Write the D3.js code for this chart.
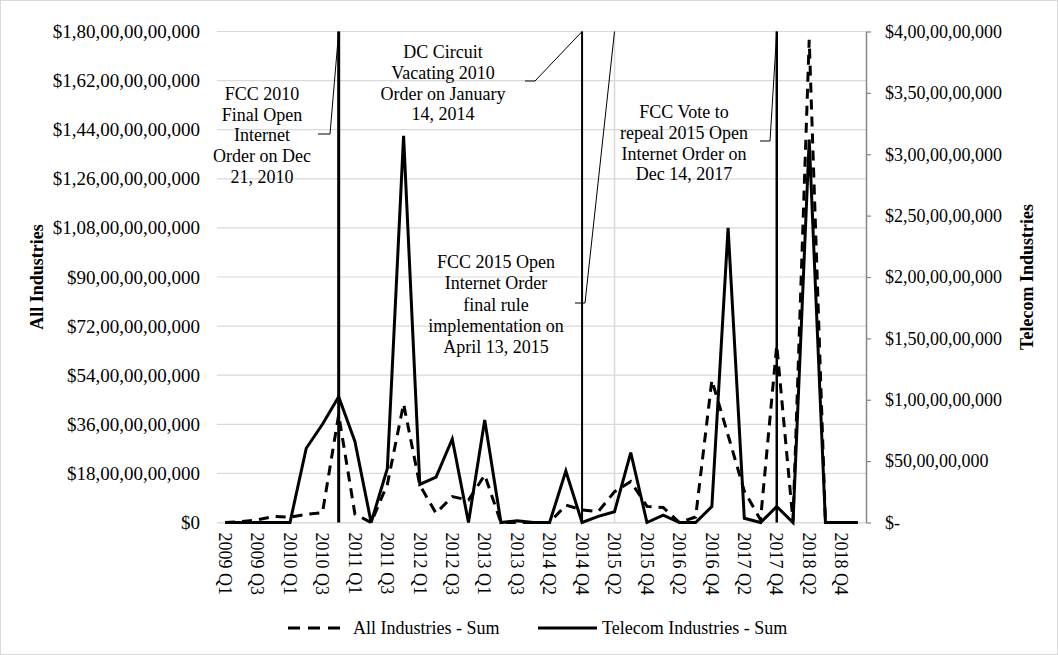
<html>
    <head>
        <style>
body {
    margin: 0;
    background: #fff;
}
svg {
    display: block;
    font-family: "Liberation Serif", "Times New Roman", serif;
}
svg text {
    font-size: 18px;
    fill: #000;
}
.title {
    font-weight: bold;
}
        </style>
    </head>
    <body>
<script src="https://d3js.org/d3.v7.min.js"></script>
<script>

// quarters on the category axis (2014 Q1 is not in the data)
const quarters = [
    '2009 Q1', '2009 Q2', '2009 Q3', '2009 Q4',
    '2010 Q1', '2010 Q2', '2010 Q3', '2010 Q4',
    '2011 Q1', '2011 Q2', '2011 Q3', '2011 Q4',
    '2012 Q1', '2012 Q2', '2012 Q3', '2012 Q4',
    '2013 Q1', '2013 Q2', '2013 Q3', '2013 Q4',
    '2014 Q2', '2014 Q3', '2014 Q4',
    '2015 Q1', '2015 Q2', '2015 Q3', '2015 Q4',
    '2016 Q1', '2016 Q2', '2016 Q3', '2016 Q4',
    '2017 Q1', '2017 Q2', '2017 Q3', '2017 Q4',
    '2018 Q1', '2018 Q2', '2018 Q3', '2018 Q4',
    '2019 Q1'
];

// All Industries - Sum (left axis, $)
const allIndustries = [
    0, 3e8, 1.0e9, 2.2e9,
    1.9e9, 3.0e9, 3.6e9, 3.95e10,
    3.1e9, 0, 1.4e10, 4.35e10,
    1.37e10, 3.4e9, 9.5e9, 8.2e9,
    1.74e10, 0, 0, 0,
    0, 6.4e9, 4.6e9,
    4.0e9, 1.13e10, 1.5e10, 5.9e9,
    5.5e9, 0, 2.0e9, 5.22e10,
    3.2e10, 1.15e10, 1.0e9, 6.5e10,
    5e8, 1.77e11, 0, 0,
    0
];

// Telecom Industries - Sum (right axis, $)
const telecom = [
    0, 0, 0, 0,
    0, 6.05e8, 8.0e8, 1.025e9,
    6.6e8, 0, 4.4e8, 3.15e9,
    3.1e8, 3.7e8, 6.8e8, 0,
    8.35e8, 0, 1.5e7, 0,
    0, 4.2e8, 0,
    5e7, 8.8e7, 5.7e8, 0,
    6e7, 0, 0, 1.3e8,
    2.4e9, 3.5e7, 0, 1.3e8,
    0, 3.12e9, 0, 0,
    0
];

const leftTicks = [0, 18e9, 36e9, 54e9, 72e9, 90e9, 108e9, 126e9, 144e9, 162e9, 180e9];
const rightTicks = [0, 5e8, 10e8, 15e8, 20e8, 25e8, 30e8, 35e8, 40e8];

// event markers and their call-outs
const eventQuarters = ['2010 Q4', '2014 Q4', '2015 Q2', '2017 Q4'];
const eventNotes = [
    ['FCC 2010', 'Final Open', 'Internet', 'Order on Dec', '21, 2010'],
    ['DC Circuit', 'Vacating 2010', 'Order on January', '14, 2014'],
    ['FCC 2015 Open', 'Internet Order', 'final rule', 'implementation on', 'April 13, 2015'],
    ['FCC Vote to', 'repeal 2015 Open', 'Internet Order on', 'Dec 14, 2017']
];

const
    width = 1058,
    height = 655,
    plot = {left: 217, right: 866, top: 31.5, bottom: 522.5};

// where each call-out box sits, and its elbow
const noteLayout = [
    {cx: 262, top: 93.5, step: 20.8, lx0: 318, lx1: 330, ly: 134},
    {cx: 443, top: 52, step: 20.6, lx0: 525, lx1: 535, ly: 81},
    {cx: 496, top: 262, step: 21.1, lx0: 575, lx1: 585, ly: 303},
    {cx: 684, top: 112, step: 20.6, lx0: 760, lx1: 770, ly: 141}
];
const eventStyle = [
    {w: 3, c: '#000'},
    {w: 2, c: '#000'},
    {w: 1.5, c: '#d9d9d9'},
    {w: 2.5, c: '#000'}
];

// Indian digit grouping: 1,80,00,00,00,000
function indian(v) {
    const s = Math.round(v).toString();
    if (s.length <= 3) return s;
    let rest = s.slice(0, -3);
    const parts = [];
    while (rest.length > 2) {
        parts.unshift(rest.slice(-2));
        rest = rest.slice(0, -2);
    }
    parts.unshift(rest);
    return parts.join(',') + ',' + s.slice(-3);
}

const svg = d3.select('body')
    .append('svg')
    .attr('width', width)
    .attr('height', height);

svg.append('rect')
    .attr('x', 0.5).attr('y', 0.5)
    .attr('width', width - 1).attr('height', height - 1)
    .attr('fill', '#fff')
    .attr('stroke', '#d9d9d9');

const x = d3.scaleBand()
    .domain(quarters)
    .range([plot.left, plot.right]);
const cx = q => x(q) + x.bandwidth() / 2;

const yL = d3.scaleLinear().domain([0, 180e9]).range([plot.bottom, plot.top]);
const yR = d3.scaleLinear().domain([0, 40e8]).range([plot.bottom, plot.top]);

// gridlines
svg.append('g')
    .selectAll('line')
    .data(leftTicks)
  .enter().append('line')
    .attr('x1', plot.left).attr('x2', plot.right)
    .attr('y1', d => yL(d)).attr('y2', d => yL(d))
    .attr('stroke', '#d9d9d9')
    .attr('stroke-width', 1.2);

// left axis
const gl = svg.append('g')
    .attr('transform', 'translate(' + plot.left + ',0)')
    .call(d3.axisLeft(yL)
        .tickValues(leftTicks)
        .tickFormat(d => '$' + indian(d))
        .tickSize(0)
        .tickPadding(17));
gl.select('.domain').remove();

// right axis
const gr = svg.append('g')
    .attr('transform', 'translate(' + plot.right + ',0)')
    .call(d3.axisRight(yR)
        .tickValues(rightTicks)
        .tickFormat(d => d === 0 ? '$-' : '$' + indian(d))
        .tickSize(5)
        .tickSizeOuter(0)
        .tickPadding(14));
gr.select('.domain').attr('stroke', '#868686').attr('stroke-width', 1.5);
gr.selectAll('.tick line').attr('stroke', '#868686').attr('stroke-width', 1.2);

// category axis
const gb = svg.append('g')
    .attr('transform', 'translate(0,' + plot.bottom + ')')
    .call(d3.axisBottom(x)
        .tickValues(quarters.filter((d, i) => i % 2 === 0))
        .tickSize(0));
gb.select('.domain').attr('stroke', '#d9d9d9');
gb.selectAll('.tick text')
    .attr('transform', 'rotate(90)')
    .attr('x', 10)
    .attr('y', 0)
    .attr('dy', '0.35em')
    .style('text-anchor', 'start');

svg.selectAll('.tick text')
    .style('font-family', '"Liberation Serif", "Times New Roman", serif')
    .style('font-size', '18px')
    .attr('fill', '#000');
gl.selectAll('.tick text')
    .style('font-size', '19px');

// axis titles
svg.append('text')
    .classed('title', true)
    .attr('transform', 'translate(37,' + (plot.top + plot.bottom) / 2 + ') rotate(-90)')
    .attr('text-anchor', 'middle')
    .attr('dy', '0.35em')
    .text('All Industries');
svg.append('text')
    .classed('title', true)
    .attr('transform', 'translate(1027,' + (plot.top + plot.bottom) / 2 + ') rotate(-90)')
    .attr('text-anchor', 'middle')
    .attr('dy', '0.35em')
    .text('Telecom Industries');

// event marker lines
svg.append('g')
    .selectAll('line')
    .data(eventQuarters)
  .enter().append('line')
    .attr('x1', d => cx(d)).attr('x2', d => cx(d))
    .attr('y1', plot.top).attr('y2', plot.bottom)
    .attr('stroke', (d, i) => eventStyle[i].c)
    .attr('stroke-width', (d, i) => eventStyle[i].w);

// series
const lineAll = d3.line()
    .x((d, i) => cx(quarters[i]))
    .y(d => yL(d));
const lineTel = d3.line()
    .x((d, i) => cx(quarters[i]))
    .y(d => yR(d));

svg.append('path')
    .datum(allIndustries)
    .attr('d', lineAll)
    .attr('fill', 'none')
    .attr('stroke', '#000')
    .attr('stroke-width', 3)
    .attr('stroke-dasharray', '10,7');

svg.append('path')
    .datum(telecom)
    .attr('d', lineTel)
    .attr('fill', 'none')
    .attr('stroke', '#000')
    .attr('stroke-width', 3)
    .attr('stroke-linejoin', 'miter');

// call-outs
const notes = svg.append('g')
    .selectAll('g')
    .data(eventNotes)
  .enter().append('g');

notes.append('path')
    .attr('d', (d, i) => {
        const L = noteLayout[i];
        return 'M' + L.lx0 + ',' + L.ly + 'H' + L.lx1 + 'L' + cx(eventQuarters[i]) + ',' + plot.top;
    })
    .attr('fill', 'none')
    .attr('stroke', '#000')
    .attr('stroke-width', 1);

notes.selectAll('text')
    .data((d, i) => d.map((t, j) => ({t: t, L: noteLayout[i], j: j})))
  .enter().append('text')
    .attr('x', d => d.L.cx)
    .attr('y', d => d.L.top + d.j * d.L.step)
    .attr('dy', '0.35em')
    .attr('text-anchor', 'middle')
    .text(d => d.t);

// legend
const legend = svg.append('g');
legend.append('line')
    .attr('x1', 288).attr('x2', 347)
    .attr('y1', 628).attr('y2', 628)
    .attr('stroke', '#000').attr('stroke-width', 3)
    .attr('stroke-dasharray', '12,8');
legend.append('text')
    .attr('x', 353).attr('y', 628).attr('dy', '0.35em')
    .text('All Industries - Sum');
legend.append('line')
    .attr('x1', 538).attr('x2', 597)
    .attr('y1', 628).attr('y2', 628)
    .attr('stroke', '#000').attr('stroke-width', 3);
legend.append('text')
    .attr('x', 602).attr('y', 628).attr('dy', '0.35em')
    .text('Telecom Industries - Sum');

</script>
    </body>
</html>
